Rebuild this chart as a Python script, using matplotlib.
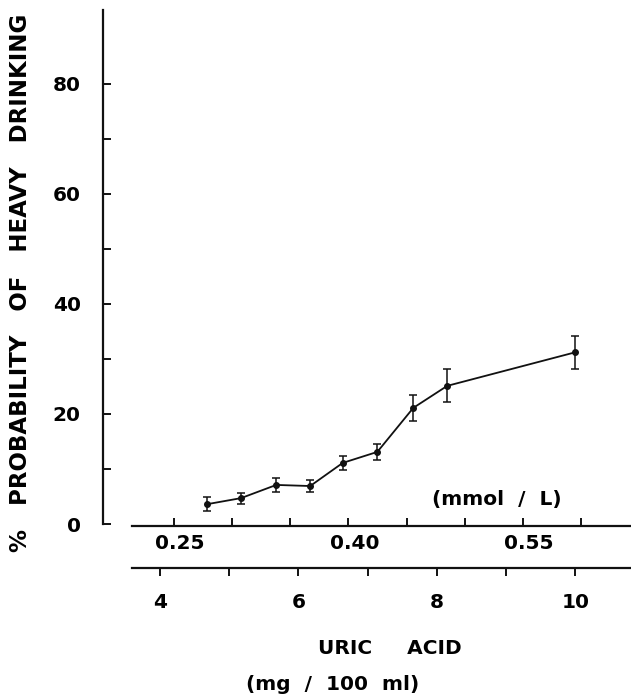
import matplotlib.pyplot as plt
from matplotlib.transforms import ScaledTranslation

# uric acid (mg/100 ml) vs % probability of heavy drinking
uric_mg = [4.68, 5.17, 5.68, 6.17, 6.64, 7.14, 7.66, 8.15, 10.0]
prob = [3.6, 4.7, 7.1, 6.9, 11.1, 13.1, 21.1, 25.1, 31.2]
err = [1.3, 1.0, 1.2, 1.1, 1.2, 1.5, 2.3, 3.0, 3.0]

y_ticks = [0, 20, 40, 60, 80]
y_minor = [10, 30, 50, 70]
mg_ticks = [4, 6, 8, 10]
mg_minor = [5, 7, 9]
mmol_ticks = [0.25, 0.40, 0.55]
mmol_minor = [0.30, 0.35, 0.45, 0.50, 0.60]
MG_TO_MMOL = 0.0595

W, H = 631, 695
fig = plt.figure(figsize=(W / 100, H / 100), dpi=100)
ink = "#111111"
fnt = dict(family="DejaVu Sans", fontweight="bold")


def box(x0, y0, x1, y1):
    return [x0 / W, 1 - y1 / H, (x1 - x0) / W, (y1 - y0) / H]


xlo, xhi = 3.176, 10.806
xstart = 3.595

# main plot
ax = fig.add_axes(box(103, 10, 631, 524))
ax.set_xlim(xlo, xhi)
ax.set_ylim(0, 93.4)
for s in ["top", "right", "bottom"]:
    ax.spines[s].set_visible(False)
ax.spines["left"].set_linewidth(1.6)
ax.spines["left"].set_color(ink)
ax.set_xticks([])
ax.set_yticks(y_ticks)
ax.set_yticks(y_minor, minor=True)
ax.set_yticklabels([str(v) for v in y_ticks], fontsize=14.5, **fnt)
ax.tick_params(axis="y", which="both", direction="in", length=6, width=1.4,
               color=ink, pad=16)
ax.patch.set_alpha(0)

ax.errorbar(uric_mg, prob, yerr=err, color=ink, lw=1.3, marker="o", ms=4,
            elinewidth=1.1, capsize=3, capthick=1.1, clip_on=False)

ax.set_ylabel("%   PROBABILITY   OF   HEAVY   DRINKING", fontsize=16.5, **fnt)
ax.yaxis.set_label_coords(-0.134, 0.47)

# mmol/L axis
axm = fig.add_axes(box(132, 525, 631, 526))
axm.set_xlim(xstart * MG_TO_MMOL, xhi * MG_TO_MMOL)
axm.set_yticks([])
for s in ["top", "right", "left"]:
    axm.spines[s].set_visible(False)
axm.spines["bottom"].set_linewidth(1.6)
axm.spines["bottom"].set_color(ink)
axm.patch.set_alpha(0)
axm.set_xticks(mmol_ticks)
axm.set_xticks(mmol_minor, minor=True)
axm.set_xticklabels(["%.2f" % v for v in mmol_ticks], fontsize=14.5, **fnt)
axm.tick_params(axis="x", which="both", direction="in", length=6, width=1.4,
                color=ink, pad=6)
shift = ScaledTranslation(6 / 100, 0, fig.dpi_scale_trans)
for lab in axm.get_xticklabels():
    lab.set_transform(lab.get_transform() + shift)

fig.text(497 / W, 1 - 499 / H, "(mmol  /  L)", ha="center", va="center",
         fontsize=14.5, **fnt)

# mg/100 ml axis
axg = fig.add_axes(box(132, 567, 631, 568))
axg.set_xlim(xstart, xhi)
axg.set_yticks([])
for s in ["top", "right", "left"]:
    axg.spines[s].set_visible(False)
axg.spines["bottom"].set_linewidth(1.6)
axg.spines["bottom"].set_color(ink)
axg.patch.set_alpha(0)
axg.set_xticks(mg_ticks)
axg.set_xticks(mg_minor, minor=True)
axg.set_xticklabels([str(v) for v in mg_ticks], fontsize=14.5, **fnt)
axg.tick_params(axis="x", which="both", direction="out", length=6, width=1.4,
                color=ink, pad=12)

fig.text(390 / W, 1 - 648 / H, "URIC     ACID", ha="center", va="center",
         fontsize=14.5, **fnt)
fig.text(333 / W, 1 - 684 / H, "(mg  /  100  ml)", ha="center", va="center",
         fontsize=14.5, **fnt)

fig.savefig("out.png", dpi=100)
